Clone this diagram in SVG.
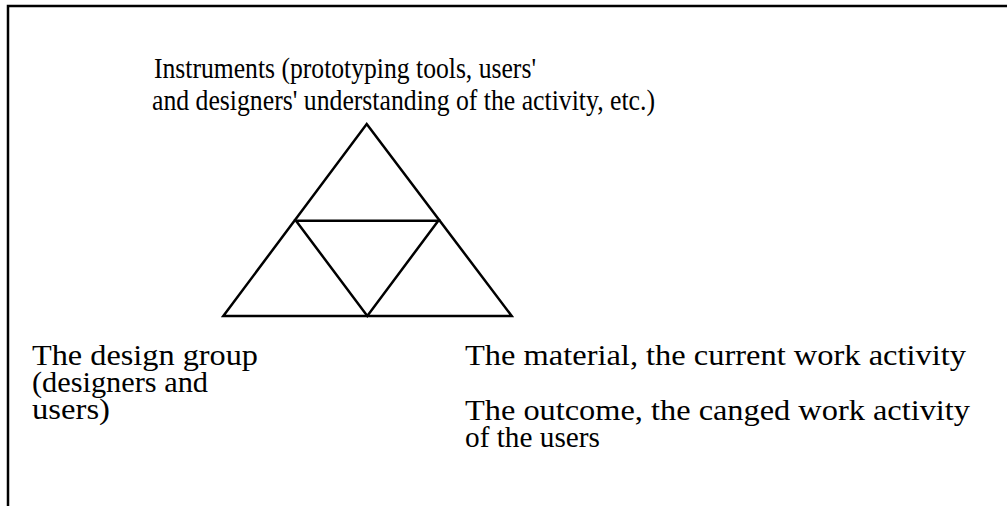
<svg xmlns="http://www.w3.org/2000/svg" width="1007" height="506" viewBox="0 0 1007 506">
  <style>
    .frame { fill: none; stroke: #000; stroke-width: 2.5; }
    .edge { fill: none; stroke: #000; stroke-width: 2.5; stroke-linejoin: miter; stroke-linecap: square; }
    .lbl { font-family: "Liberation Serif", "Times New Roman", serif; font-size: 30px; fill: #000; }
    .lg { font-size: 29px; }
  </style>
  <rect width="1007" height="506" fill="#fff"/>
  <!-- open frame: top and left edges -->
  <path class="frame" d="M8,506 V6 H1007"/>

  <!-- connectors: outer triangle and inner inverted triangle -->
  <g id="connectors">
    <path class="edge" d="M366.7,124 L511.7,316 L223.3,316 Z"/>
    <path class="edge" d="M296,220.7 L438.3,220.7 L367.3,316 Z"/>
  </g>

  <g id="instruments">
    <text class="lbl" x="154" y="78" textLength="382" lengthAdjust="spacingAndGlyphs">Instruments (prototyping tools, users'</text>
    <text class="lbl" x="152" y="110" textLength="503" lengthAdjust="spacingAndGlyphs">and designers' understanding of the activity, etc.)</text>
  </g>

  <g id="subject">
    <text class="lbl lg" x="32" y="365" textLength="226" lengthAdjust="spacingAndGlyphs">The design group</text>
    <text class="lbl lg" x="32" y="392" textLength="176" lengthAdjust="spacingAndGlyphs">(designers and</text>
    <text class="lbl lg" x="32" y="419" textLength="78" lengthAdjust="spacingAndGlyphs">users)</text>
  </g>

  <g id="object">
    <text class="lbl lg" x="465" y="365" textLength="501" lengthAdjust="spacingAndGlyphs">The material, the current work activity</text>
  </g>

  <g id="outcome">
    <text class="lbl lg" x="465" y="420" textLength="505" lengthAdjust="spacingAndGlyphs">The outcome, the canged work activity</text>
    <text class="lbl lg" x="465" y="447" textLength="135" lengthAdjust="spacingAndGlyphs">of the users</text>
  </g>
</svg>
